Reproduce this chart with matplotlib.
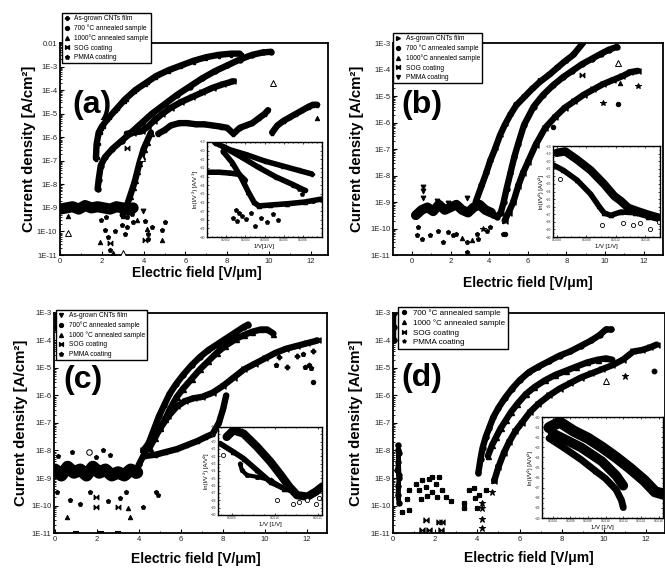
import numpy as np
import matplotlib.pyplot as plt
from matplotlib.lines import Line2D
from matplotlib.ticker import FixedLocator, MultipleLocator, NullFormatter

plt.rcParams['font.family'] = ['Liberation Sans', 'DejaVu Sans']

# bow-tie marker used for the SOG coating
BOW = [(-1, -1), (-1, 1), (1, -1), (1, 1), (-1, -1)]

# ---------------------------
# DATA: electric field [V/um] and log10 of current density [A/cm2]
# ---------------------------

# (a)
a_asgrown_E = [1.72, 1.75, 1.85, 2.0, 2.3, 2.7, 3.1, 3.6, 4.1, 4.6, 5.2, 5.8, 6.4, 7.0, 7.6, 8.2, 8.6]
a_asgrown_logJ = [-6.9, -6.3, -5.8, -5.55, -5.2, -4.8, -4.4, -4.0, -3.7, -3.4, -3.15, -2.95, -2.75, -2.6, -2.5, -2.45, -2.45]
a_700_E = [1.8, 1.85, 1.95, 2.15, 2.5, 2.95, 3.4, 3.9, 4.4, 5.0, 5.6, 6.2, 6.8, 7.4, 8.0, 8.6, 9.2, 9.7, 10.1]
a_700_logJ = [-8.2, -7.8, -7.2, -6.85, -6.5, -6.15, -5.8, -5.4, -5.0, -4.6, -4.2, -3.85, -3.5, -3.2, -2.95, -2.7, -2.5, -2.4, -2.37]
a_1000_E = [3.0, 3.2, 3.35, 3.5, 3.6, 3.7, 3.8, 3.9, 4.0, 4.15, 4.35]
a_1000_logJ = [-9.3, -8.9, -8.5, -8.1, -7.8, -7.45, -7.1, -6.8, -6.5, -6.2, -5.8]
a_sog_E = [3.2, 3.5, 3.9, 4.2, 4.5, 4.9, 5.3, 5.8, 6.3, 6.8, 7.3, 7.8, 8.3]
a_sog_logJ = [-5.85, -5.8, -5.75, -5.55, -5.3, -5.0, -4.75, -4.5, -4.3, -4.1, -3.9, -3.75, -3.62]
a_pmma_E = [4.7, 5.0, 5.3, 5.7, 6.1, 6.5, 6.9, 7.3, 7.7, 8.0, 8.3, 8.6, 8.9, 9.2, 9.5, 9.8, 9.95]
a_pmma_logJ = [-5.85, -5.7, -5.5, -5.4, -5.4, -5.45, -5.45, -5.5, -5.55, -5.6, -5.85, -5.6, -5.5, -5.4, -5.2, -5.0, -4.85]
a_pmma2_E = [10.15, 10.4, 10.7, 11.0, 11.3, 11.6, 11.9, 12.1, 12.3]
a_pmma2_logJ = [-5.8, -5.5, -5.3, -5.15, -5.0, -4.85, -4.7, -4.62, -4.62]
a_noise_E = [0.0, 0.3, 0.6, 0.9, 1.2, 1.5, 1.8, 2.1, 2.4, 2.7, 3.0, 3.3, 3.5]
a_noise_logJ = [-9.05, -9.0, -8.95, -9.05, -8.9, -9.0, -8.95, -9.0, -9.05, -8.95, -9.0, -9.1, -9.0]
a_tri = [(0.4, -9.36), (1.91, -10.44), (2.55, -10.93), (3.67, -9.5), (4.15, -9.9), (4.86, -10.36), (12.3, -5.2)]
a_tri_open = [(0.4, -10.06), (3.03, -10.93), (3.9, -6.88), (10.2, -3.7)]
a_pent = [(2.15, -9.94), (2.31, -10.22), (2.39, -10.79), (2.63, -10.0), (2.95, -9.73), (3.19, -9.8),
          (3.11, -10.1), (3.51, -9.6), (4.07, -9.55), (4.23, -10.3), (4.23, -10.1), (4.39, -9.8),
          (4.86, -9.94), (5.02, -9.6), (3.43, -9.24), (3.19, -9.38), (1.95, -9.5), (2.2, -9.4)]
a_vtri = [(3.99, -9.13)]
a_sog_pts = [(4.07, -10.36), (3.2, -6.46), (2.4, -10.5)]

# (b)
b_asgrown_E = [3.3, 3.6, 3.85, 4.05, 4.3, 4.55, 4.8, 5.1, 5.4, 5.8, 6.2, 6.65, 7.1, 7.5, 7.9, 8.35, 8.8]
b_asgrown_logJ = [-9.0, -8.4, -7.9, -7.45, -7.0, -6.5, -6.1, -5.7, -5.35, -5.05, -4.75, -4.45, -4.2, -3.95, -3.7, -3.45, -3.05]
b_700_E = [4.2, 4.4, 4.6, 4.75, 4.9, 5.1, 5.3, 5.5, 5.8, 6.3, 6.8, 7.3, 7.8, 8.3, 8.8, 9.3, 9.8, 10.2, 10.6]
b_700_logJ = [-9.5, -9.55, -9.4, -9.0, -8.5, -7.9, -7.3, -6.8, -6.1, -5.4, -4.95, -4.6, -4.3, -4.05, -3.8, -3.6, -3.4, -3.25, -3.15]
b_sog_E = [4.8, 5.0, 5.25, 5.5, 5.75, 6.0, 6.4, 6.9, 7.4, 7.9, 8.4, 8.9, 9.4, 9.9, 10.4, 10.9, 11.3, 11.7]
b_sog_logJ = [-9.7, -9.4, -9.0, -8.4, -7.9, -7.5, -6.85, -6.2, -5.8, -5.45, -5.2, -4.95, -4.75, -4.55, -4.4, -4.25, -4.1, -4.05]
b_noise_E = [0.2, 0.5, 0.8, 1.1, 1.4, 1.7, 2.0, 2.3, 2.6, 2.9, 3.2, 3.5, 3.8, 4.1]
b_noise_logJ = [-9.5, -9.3, -9.2, -9.35, -9.1, -9.3, -9.2, -9.1, -9.3, -9.4, -9.2, -9.1, -9.3, -9.4]
b_low = [(0.33, -9.95), (0.24, -10.25), (0.5, -10.4), (0.93, -10.25), (1.62, -10.5), (2.14, -10.25),
         (2.3, -10.2), (2.83, -10.5), (3.35, -10.2), (3.43, -10.4), (3.87, -10.1), (4.04, -9.95),
         (4.73, -10.2), (2.83, -10.9), (1.36, -10.1), (1.88, -10.15)]
b_high = [(0.59, -8.42), (0.59, -8.6), (0.59, -8.85), (1.28, -8.98), (1.88, -9.04), (2.83, -8.85)]
b_tri_open = [(10.69, -3.75)]
b_tri = [(10.77, -4.5), (2.6, -10.35), (3.1, -10.45)]
b_star = [(9.91, -5.26), (11.73, -4.64), (3.7, -10.0)]
b_circ = [(10.69, -5.3), (4.8, -10.2), (7.0, -6.1), (7.3, -6.15)]
b_sog_pts = [(8.79, -4.2)]

# (c)
c_700_E = [3.8, 4.0, 4.2, 4.4, 4.65, 4.95, 5.2, 5.45, 5.75, 6.1, 6.5, 6.9, 7.3, 7.7, 8.1, 8.6, 9.0, 9.2]
c_700_logJ = [-8.9, -8.5, -8.2, -7.85, -7.35, -6.75, -6.35, -5.95, -5.6, -5.25, -4.9, -4.6, -4.35, -4.15, -3.95, -3.7, -3.5, -3.42]
c_1000_E = [4.5, 4.75, 5.0, 5.25, 5.5, 5.8, 6.1, 6.5, 6.9, 7.3, 7.7, 8.1, 8.6, 9.0, 9.4, 9.8, 10.1, 10.4]
c_1000_logJ = [-7.9, -7.55, -7.2, -6.85, -6.45, -6.05, -5.75, -5.4, -5.05, -4.75, -4.45, -4.2, -3.95, -3.8, -3.68, -3.6, -3.6, -3.75]
c_sog_E = [4.2, 4.6, 5.0, 5.4, 5.8, 6.2, 6.6, 7.0, 7.5, 8.0, 8.5, 9.0, 9.5, 10.0, 10.5, 11.0, 11.5, 12.0, 12.5]
c_sog_logJ = [-8.0, -7.6, -7.2, -6.75, -6.4, -6.2, -6.1, -6.05, -5.9, -5.65, -5.35, -5.05, -4.85, -4.65, -4.45, -4.3, -4.2, -4.1, -4.0]
c_pmma_E = [4.3, 4.8, 5.3, 5.8, 6.3, 6.8, 7.2, 7.5, 7.8, 8.0, 8.15]
c_pmma_logJ = [-8.2, -8.15, -8.05, -7.95, -7.8, -7.65, -7.5, -7.4, -7.0, -6.5, -6.0]
c_noise_E = [0.0, 0.3, 0.6, 0.9, 1.2, 1.5, 1.8, 2.1, 2.4, 2.7, 3.0, 3.3, 3.6, 3.9]
c_noise_logJ = [-8.7, -8.9, -8.6, -8.8, -8.7, -8.9, -8.6, -8.8, -8.7, -8.9, -8.8, -8.9, -8.7, -8.8]
c_tri = [(0.55, -10.41), (3.48, -10.1), (3.55, -10.41)]
c_sog_pts = [(1.97, -10.04), (3.0, -10.04), (1.97, -9.68)]
c_misc = [(2.53, -9.85), (4.17, -10.04), (3.08, -9.74), (3.4, -9.5), (4.82, -9.5), (4.9, -9.6),
          (0.71, -9.8), (1.18, -9.94), (1.66, -9.5), (0.16, -8.2), (0.08, -9.5), (0.79, -8.07),
          (2.29, -7.99), (2.61, -8.17), (1.97, -8.23)]
c_open_circ = [(1.6, -8.04)]
c_bottom = [(1.0, -10.98), (2.2, -10.98), (3.0, -10.98)]
c_right_plus = [(10.66, -4.59), (11.06, -4.97), (12.3, -4.4), (11.5, -4.55)]
c_right_misc = [(11.9, -4.97), (12.1, -4.9), (12.2, -5.0), (10.5, -4.88), (11.8, -4.5)]
c_right_circ = [(12.3, -5.5)]
c_left_E = [0.03, 0.03, 0.03]
c_left_logJ = [-3.0, -3.3, -3.6]

# (d)
d_700_E = [4.05, 4.15, 4.25, 4.4, 4.55, 4.75, 5.0, 5.3, 5.65, 6.0, 6.45, 6.9, 7.4, 7.9, 8.4, 8.9, 9.4, 9.8, 10.1, 10.35]
d_700_logJ = [-8.8, -8.3, -7.9, -7.5, -7.2, -6.8, -6.45, -6.1, -5.75, -5.45, -5.15, -4.95, -4.75, -4.55, -4.4, -4.2, -4.0, -3.8, -3.6, -3.6]
d_1000_E = [4.5, 4.7, 4.9, 5.1, 5.35, 5.6, 5.9, 6.3, 6.7, 7.2, 7.7, 8.2, 8.7, 9.2, 9.7, 10.1, 10.4]
d_1000_logJ = [-8.2, -7.8, -7.5, -7.2, -6.9, -6.6, -6.3, -5.95, -5.7, -5.45, -5.25, -5.1, -4.95, -4.8, -4.7, -4.65, -4.7]
d_sog_E = [4.8, 5.0, 5.25, 5.5, 5.8, 6.1, 6.5, 6.9, 7.4, 7.9, 8.4, 8.9, 9.4, 9.9, 10.4, 10.9, 11.4, 11.8, 12.2, 12.5]
d_sog_logJ = [-9.1, -8.6, -8.1, -7.7, -7.3, -7.0, -6.6, -6.3, -6.0, -5.75, -5.55, -5.35, -5.2, -5.05, -4.9, -4.7, -4.4, -4.35, -4.25, -4.15]
d_col_E = [0.22, 0.28, 0.25, 0.2, 0.3, 0.25, 0.22, 0.28, 0.25, 0.3]
d_col_logJ = [-7.8, -8.1, -8.4, -8.7, -9.0, -9.3, -9.6, -9.9, -8.0, -8.9]
d_cluster = [(1.07, -9.21), (1.23, -9.45), (1.39, -9.09), (1.55, -9.33), (1.71, -9.03), (1.86, -9.5),
             (2.02, -9.21), (2.18, -8.97), (2.34, -9.45), (1.86, -8.97), (1.63, -9.64), (2.1, -9.7),
             (2.5, -9.7), (1.31, -9.75), (0.76, -10.18), (0.44, -10.24), (0.76, -9.45), (0.68, -9.75),
             (2.73, -9.83), (3.36, -9.9), (3.36, -10.08), (3.9, -9.72), (3.99, -10.08), (4.07, -9.6),
             (3.84, -9.36), (3.6, -9.42), (4.39, -9.42)]
d_low_sog = [(1.55, -10.54), (1.39, -10.9), (1.71, -10.9), (2.18, -10.6), (2.34, -10.6), (2.26, -10.9)]
d_stars = [(4.23, -10.5), (4.23, -10.8), (4.71, -9.5), (4.2, -9.9), (4.23, -10.08)]
d_tri_open = [(10.08, -5.48)]
d_star_r = [(11.0, -5.3)]
d_circ_r = [(12.37, -5.1)]
d_left_E = [0.03, 0.03, 0.03]
d_left_logJ = [-3.0, -3.5, -4.0]

# insets: 1/V and ln(I/V^2)
ia_l1_x = [0.000142, 0.00022, 0.00031, 0.0004, 0.00049, 0.00058, 0.000646]
ia_l1_y = [-19.1, -19.9, -20.5, -21.2, -21.75, -22.3, -22.7]
ia_l2_x = [0.000184, 0.00028, 0.00037, 0.00046, 0.00055, 0.00061]
ia_l2_y = [-19.55, -20.75, -21.95, -23.05, -23.95, -24.6]
ia_l3_x = [0.000184, 0.000232, 0.00028, 0.000316, 0.000346, 0.00037, 0.00043, 0.00052, 0.00061, 0.0007]
ia_l3_y = [-20.1, -21.4, -23.2, -24.8, -26.0, -26.4, -26.3, -26.15, -25.95, -25.6]
ia_l4_x = [0.0001, 0.00016, 0.00022, 0.000268, 0.000298]
ia_l4_y = [-22.5, -22.5, -22.6, -22.75, -23.4]
ia_pts = [(0.000238, -27.8), (0.000256, -28.13), (0.00028, -27.58), (0.000304, -27.9), (0.000328, -27.25),
          (0.000352, -28.7), (0.000382, -27.8), (0.000412, -28.25), (0.000442, -27.35), (0.000472, -28.0),
          (0.000268, -27.25), (0.00058, -24.5), (0.000598, -25.05), (0.000652, -25.8), (0.00025, -26.9)]

ib_up_x = [0.0004, 0.000515, 0.000676, 0.00086, 0.00104, 0.00118, 0.00127, 0.00137, 0.0015, 0.00164, 0.0018]
ib_up_y = [-18.9, -18.7, -19.8, -21.2, -23.0, -24.6, -25.25, -26.15, -26.6, -27.05, -27.5]
ib_lo_x = [0.000354, 0.00049, 0.000676, 0.00086, 0.00097, 0.00104, 0.00113, 0.00127, 0.00146, 0.00164, 0.0018]
ib_lo_y = [-20.5, -21.2, -22.5, -24.35, -25.9, -26.8, -27.15, -26.7, -26.8, -27.3, -27.7]
ib_pts = [(0.000446, -22.3), (0.00102, -28.4), (0.0013, -28.2), (0.00143, -28.4), (0.00153, -28.1),
          (0.00166, -28.9), (0.00178, -28.0)]

ic_up_x = [0.000441, 0.00052, 0.000637, 0.000794, 0.000951, 0.00107, 0.00117, 0.00126, 0.00138, 0.00148, 0.00155]
ic_up_y = [-19.35, -18.45, -18.9, -20.7, -22.75, -24.55, -26.15, -27.3, -27.5, -26.8, -26.15]
ic_lo_x = [0.000363, 0.00052, 0.000637, 0.000794, 0.000951, 0.00111, 0.00123]
ic_lo_y = [-20.25, -21.4, -22.3, -23.9, -25.5, -26.4, -26.8]
ic_loop_x = [0.000598, 0.000618, 0.000676, 0.000794, 0.000951, 0.00111]
ic_loop_y = [-22.98, -23.9, -24.55, -24.8, -25.25, -26.4]
ic_pts = [(0.00103, -27.95), (0.00121, -28.5), (0.00128, -28.2), (0.00138, -27.95), (0.00148, -28.5),
          (0.00152, -27.75), (0.000402, -21.85)]

id_up_x = [0.00036, 0.00048, 0.00064, 0.0008, 0.00096, 0.00112, 0.00128, 0.00144, 0.00156, 0.00168]
id_up_y = [-31.05, -30.5, -31.4, -32.1, -33.0, -34.0, -35.1, -36.3, -37.4, -37.7]
id_mid_x = [0.0004, 0.00072, 0.00096, 0.00112, 0.0012]
id_mid_y = [-31.6, -33.0, -34.4, -35.8, -36.8]
id_lo_x = [0.00036, 0.00052, 0.00072, 0.00088, 0.001, 0.00112, 0.00118, 0.0012]
id_lo_y = [-32.1, -33.0, -34.2, -35.3, -36.1, -37.2, -38.25, -38.95]

XLABEL = "Electric field [V/\u03bcm]"
YLABEL = "Current density [A/cm\u00b2]"


# ---------------------------
# HELPERS
# ---------------------------

def band(ax, E, logj, marker, lw=4.6, ms=3.6):
    ax.plot(E, 10.0 ** np.asarray(logj), color='k', lw=lw, marker=marker, ms=ms,
            mec='k', mfc='k', solid_joinstyle='round', solid_capstyle='round', zorder=3)


def dots(ax, pts, marker, ms=3.2, mfc='k', mew=0.7):
    E = [p[0] for p in pts]
    J = [10.0 ** p[1] for p in pts]
    ax.plot(E, J, ls='none', marker=marker, ms=ms, mfc=mfc, mec='k', mew=mew, zorder=3)


def setup_main(ax, xlim, lo, hi, top_label=None):
    ax.set_yscale('log')
    ax.set_xlim(*xlim)
    ax.set_ylim(10.0 ** lo, 10.0 ** hi)
    exps = list(range(lo, hi + 1))
    ax.yaxis.set_major_locator(FixedLocator([10.0 ** e for e in exps]))
    labels = ['1E%d' % e for e in exps]
    if top_label:
        labels[-1] = top_label
    ax.set_yticklabels(labels)
    minors = [m * 10.0 ** e for e in exps[:-1] for m in range(2, 10)]
    ax.yaxis.set_minor_locator(FixedLocator(minors))
    ax.yaxis.set_minor_formatter(NullFormatter())
    ax.xaxis.set_major_locator(FixedLocator([0, 2, 4, 6, 8, 10, 12]))
    ax.xaxis.set_minor_locator(MultipleLocator(1))
    ax.tick_params(which='major', direction='in', length=3, width=0.8, labelsize=5.5,
                   labelcolor='#222222', pad=2)
    ax.tick_params(which='minor', direction='in', length=1.6, width=0.6)
    for s in ax.spines.values():
        s.set_linewidth(1.3)


def labels(ax, xl_y, yl_x, xl_x=0.5):
    ax.set_xlabel(XLABEL, fontsize=10, fontweight='bold')
    ax.set_ylabel(YLABEL, fontsize=10.8, fontweight='bold')
    ax.xaxis.set_label_coords(xl_x, xl_y)
    ax.yaxis.set_label_coords(yl_x, 0.5)


def legend(ax, entries, anchor, fs=4.8, spacing=0.36):
    handles = [Line2D([], [], ls='none', marker=m, color='k', mfc='k', ms=2.8) for m, _ in entries]
    lg = ax.legend(handles, [t for _, t in entries], loc='upper left', bbox_to_anchor=anchor,
                   fontsize=fs, frameon=True, fancybox=False, framealpha=1, edgecolor='k',
                   borderpad=0.3, labelspacing=spacing, handlelength=1.0, handletextpad=0.6,
                   borderaxespad=0)
    lg.get_frame().set_linewidth(1.0)
    lg.set_zorder(10)


def setup_inset(ax, xlim, xticks, ylim, xlabel, ylabel):
    ax.set_xlim(*xlim)
    ax.set_ylim(*ylim)
    ax.xaxis.set_major_locator(FixedLocator(xticks))
    ax.set_xticklabels(['%.4f' % t for t in xticks])
    ax.yaxis.set_major_locator(MultipleLocator(1))
    ax.xaxis.set_minor_locator(MultipleLocator((xticks[1] - xticks[0]) / 4))
    ax.yaxis.set_minor_locator(MultipleLocator(0.5))
    ax.tick_params(which='both', direction='in', top=True, right=True, width=0.5,
                   labelsize=2.3, pad=1, labelcolor='#333333')
    ax.tick_params(which='major', length=1.6)
    ax.tick_params(which='minor', length=0.9)
    ax.set_xlabel(xlabel, fontsize=4.2, labelpad=1.5)
    ax.set_ylabel(ylabel, fontsize=4.2, labelpad=1.5)
    for s in ax.spines.values():
        s.set_linewidth(1.0)


def iline(ax, x, y, marker, lw=4.0, ms=3.0):
    ax.plot(x, y, color='k', lw=lw, marker=marker, ms=ms, mfc='k', mec='k',
            solid_joinstyle='round', solid_capstyle='round')


def ipts(ax, pts, marker, ms=2.6, mfc='k'):
    ax.plot([p[0] for p in pts], [p[1] for p in pts], ls='none', marker=marker, ms=ms,
            mfc=mfc, mec='k', mew=0.6)


# ---------------------------
# FIGURE
# ---------------------------

fig = plt.figure(figsize=(6.65, 5.70), dpi=100)

ax_a = fig.add_axes([0.0902, 0.5526, 0.4030, 0.3719])
ax_b = fig.add_axes([0.5910, 0.5526, 0.4060, 0.3719])
ax_c = fig.add_axes([0.0812, 0.0649, 0.4105, 0.3860])
ax_d = fig.add_axes([0.5910, 0.0649, 0.4090, 0.3860])

# ---- (a) ----
ax = ax_a
setup_main(ax, (0, 12.82), -11, -2, top_label='0.01')
band(ax, a_noise_E, a_noise_logJ, 'p', lw=8, ms=4)
band(ax, a_asgrown_E, a_asgrown_logJ, 'P')
band(ax, a_700_E, a_700_logJ, 'o')
band(ax, a_1000_E, a_1000_logJ, '^')
band(ax, a_sog_E, a_sog_logJ, BOW)
band(ax, a_pmma_E, a_pmma_logJ, 'p')
band(ax, a_pmma2_E, a_pmma2_logJ, 'p')
dots(ax, a_tri, '^')
dots(ax, a_tri_open, '^', mfc='white', ms=4)
dots(ax, a_pent, 'p')
dots(ax, a_vtri, 'v', ms=3.5)
dots(ax, a_sog_pts, BOW, ms=3.5)
ax.text(0.12, 0.71, '(a)', transform=ax.transAxes, fontsize=23, fontweight='bold',
        ha='center', va='center')
labels(ax, -0.052, -0.09, 0.51)
legend(ax, [('P', 'As-grown CNTs film'), ('o', '700 \u00b0C annealed sample'),
            ('^', '1000\u00b0C annealed sample'), (BOW, 'SOG coating'),
            ('p', 'PMMA coating')], (0.006, 1.142))

# ---- (b) ----
ax = ax_b
setup_main(ax, (-0.98, 13.0), -11, -3)
band(ax, b_noise_E, b_noise_logJ, 'p', lw=7, ms=4)
band(ax, b_asgrown_E, b_asgrown_logJ, '>')
band(ax, b_700_E, b_700_logJ, 'o')
band(ax, b_sog_E, b_sog_logJ, BOW)
dots(ax, b_low, 'p')
dots(ax, b_high, 'v', ms=3.5)
dots(ax, b_tri_open, '^', mfc='white', ms=4)
dots(ax, b_tri, '^')
dots(ax, b_star, '*', ms=4)
dots(ax, b_circ, 'o')
dots(ax, b_sog_pts, BOW, ms=3.5)
ax.text(0.108, 0.71, '(b)', transform=ax.transAxes, fontsize=23, fontweight='bold',
        ha='center', va='center')
labels(ax, -0.099, -0.107, 0.5)
legend(ax, [('>', 'As-grown CNTs film'), ('o', '700 \u00b0C annealed sample'),
            ('^', '1000\u00b0C annealed sample'), (BOW, 'SOG coating'),
            ('v', 'PMMA coating')], (0.0, 1.047))

# ---- (c) ----
ax = ax_c
setup_main(ax, (-0.05, 12.95), -11, -3)
band(ax, c_noise_E, c_noise_logJ, 'p', lw=9, ms=4)
band(ax, c_700_E, c_700_logJ, 'o')
band(ax, c_1000_E, c_1000_logJ, '^')
band(ax, c_sog_E, c_sog_logJ, BOW)
band(ax, c_pmma_E, c_pmma_logJ, 'p')
band(ax, c_left_E, c_left_logJ, 'v', lw=2.5)
dots(ax, c_tri, '^')
dots(ax, c_sog_pts, BOW, ms=3.5)
dots(ax, c_misc, 'p')
dots(ax, c_open_circ, 'o', mfc='white', ms=4)
dots(ax, c_bottom, '_', ms=4, mew=1.5)
dots(ax, c_right_plus, 'P', ms=3.5)
dots(ax, c_right_misc, 'p', ms=3.5)
dots(ax, c_right_circ, 'o')
ax.text(0.105, 0.695, '(c)', transform=ax.transAxes, fontsize=23, fontweight='bold',
        ha='center', va='center')
labels(ax, -0.086, -0.095, 0.52)
legend(ax, [('v', 'As-grown CNTs film'), ('o', '700\u00b0C annealed sample'),
            ('^', '1000 \u00b0C annealed sample'), (BOW, 'SOG coating'),
            ('p', 'PMMA coating')], (0.007, 1.014))

# ---- (d) ----
ax = ax_d
setup_main(ax, (0, 12.9), -11, -3)
band(ax, d_col_E, d_col_logJ, 'o', lw=3)
band(ax, d_left_E, d_left_logJ, 'o', lw=2.5)
band(ax, d_700_E, d_700_logJ, 'o')
band(ax, d_1000_E, d_1000_logJ, '^')
band(ax, d_sog_E, d_sog_logJ, BOW)
dots(ax, d_cluster, 'o')
dots(ax, d_cluster, BOW, ms=3.0)
dots(ax, d_low_sog, BOW, ms=3.8)
dots(ax, d_stars, '*', ms=4.5)
dots(ax, d_tri_open, '^', mfc='white', ms=4)
dots(ax, d_star_r, '*', ms=5)
dots(ax, d_circ_r, 'o', ms=3.5)
ax.text(0.107, 0.705, '(d)', transform=ax.transAxes, fontsize=23, fontweight='bold',
        ha='center', va='center')
labels(ax, -0.082, -0.11, 0.5)
legend(ax, [('o', '700 \u00b0C annealed sample'), ('^', '1000 \u00b0C annealed sample'),
            (BOW, 'SOG coating'), ('*', 'PMMA coating')], (0.018, 1.027), fs=5.8, spacing=0.25)

# ---- insets ----
ins_a = fig.add_axes([0.3113, 0.5842, 0.1729, 0.1667], zorder=5)
setup_inset(ins_a, (0.0001, 0.0007), [0.0002, 0.0003, 0.0004, 0.0005, 0.0006], (-30, -19),
            '1/V[1/V]', 'ln(I/V \u00b2) [A/V \u00b2]')
iline(ins_a, ia_l1_x, ia_l1_y, 'P')
iline(ins_a, ia_l2_x, ia_l2_y, 'o')
iline(ins_a, ia_l3_x, ia_l3_y, '^')
iline(ins_a, ia_l4_x, ia_l4_y, 'p')
ipts(ins_a, ia_pts, 'p', ms=3.2)

ins_b = fig.add_axes([0.8316, 0.5842, 0.1609, 0.1596], zorder=5)
setup_inset(ins_b, (0.00035, 0.0018), [0.0004, 0.0008, 0.0012, 0.0016], (-30, -18),
            '1/V [1/V]', 'ln(I/V\u00b2) [A/V\u00b2]')
iline(ins_b, ib_up_x, ib_up_y, 'o', lw=6)
iline(ins_b, ib_lo_x, ib_lo_y, '^', lw=4)
ipts(ins_b, ib_pts, 'o', ms=3, mfc='white')

ins_c = fig.add_axes([0.3278, 0.0965, 0.1564, 0.1544], zorder=5)
setup_inset(ins_c, (0.00034, 0.00155), [0.0005, 0.0010, 0.0015], (-30, -18),
            '1/V [1/V]', 'ln(I/V \u00b2) [A/V\u00b2]')
iline(ins_c, ic_up_x, ic_up_y, 'o', lw=6)
iline(ins_c, ic_lo_x, ic_lo_y, '^', lw=4)
iline(ins_c, ic_loop_x, ic_loop_y, 'p', lw=3)
ipts(ins_c, ic_pts, 'o', ms=3, mfc='white')

ins_d = fig.add_axes([0.8150, 0.0912, 0.1820, 0.1772], zorder=5)
setup_inset(ins_d, (0.00028, 0.00165), [0.0004, 0.0006, 0.0008, 0.0010, 0.0012, 0.0014, 0.0016],
            (-40, -30), '1/V [1/V]', 'ln(I/V\u00b2) [A/V\u00b2]')
iline(ins_d, id_up_x, id_up_y, 'o', lw=8)
iline(ins_d, id_mid_x, id_mid_y, BOW, lw=7)
iline(ins_d, id_lo_x, id_lo_y, '^', lw=5)

fig.savefig('out.png', dpi=100, facecolor='white')
